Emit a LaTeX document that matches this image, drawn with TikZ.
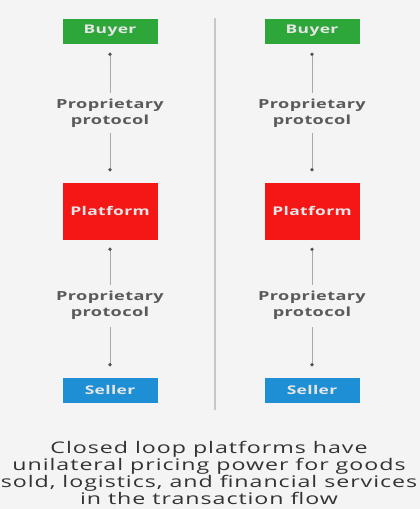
\documentclass[tikz,border=0pt]{standalone}
\usepackage{fontspec}
\setmainfont{Open Sans}[FakeStretch=1.45, LetterSpace=3]
\newfontfamily\capfont{Open Sans}[FakeStretch=1.45, LetterSpace=6]
\usetikzlibrary{arrows.meta}
\definecolor{bgcol}{HTML}{F4F4F4}
\definecolor{buyergreen}{HTML}{2EA73A}
\definecolor{platred}{HTML}{F51616}
\definecolor{sellerblue}{HTML}{1E8FD5}
\definecolor{linegray}{HTML}{A8A8A8}
\definecolor{dotgray}{HTML}{555555}
\definecolor{labelgray}{HTML}{5A5A5A}
\definecolor{captiongray}{HTML}{333333}
\tikzset{
  party/.style={minimum width=95pt, minimum height=25pt, inner sep=0pt,
    text=white!90!black, font=\fontsize{12}{13}\selectfont\bfseries},
  buyerbox/.style={party, fill=buyergreen},
  platbox/.style={party, fill=platred, minimum height=57pt},
  sellerbox/.style={party, fill=sellerblue},
  protolabel/.style={align=center, inner sep=1pt, text=labelgray,
    font=\fontsize{12.5}{16}\selectfont\bfseries},
  conn/.style={draw=linegray, line width=1pt},
  dotend/.style={-{Circle[length=3.2pt, color=dotgray, fill=dotgray]}},
  dotstart/.style={{Circle[length=3.2pt, color=dotgray, fill=dotgray]}-},
  divider/.style={draw=black!22, line width=1.6pt},
}
\begin{document}
\begin{tikzpicture}[x=1pt, y=-1pt]
\fill[bgcol] (0,0) rectangle (420,509);
\useasboundingbox (0,0) rectangle (420,509);

% separator between the two columns
\coordinate (divtop) at (215,18);
\coordinate (divbot) at (215,410);
\draw[divider] (divtop) -- (divbot);

% left column
\node[buyerbox]  (buyerL) at (110,31)  {Buyer};
\node[protolabel] (protoLT) at (110,113) {Proprietary\\protocol};
\node[platbox]   (platL)  at (110,211) {Platform};
\node[protolabel] (protoLB) at (110,305) {Proprietary\\protocol};
\node[sellerbox] (sellerL) at (110,390) {Seller};

% right column
\node[buyerbox]  (buyerR) at (312,31)  {Buyer};
\node[protolabel] (protoRT) at (312,113) {Proprietary\\protocol};
\node[platbox]   (platR)  at (312,211) {Platform};
\node[protolabel] (protoRB) at (312,305) {Proprietary\\protocol};
\node[sellerbox] (sellerR) at (312,390) {Seller};

% protocol links
\foreach \c in {L,R}{
  \draw[conn, dotstart, shorten <=9pt, shorten >=5pt] (buyer\c) -- (proto\c T.north);
  \draw[conn, dotend, shorten <=5pt, shorten >=11pt] (proto\c T.south) -- (plat\c);
  \draw[conn, dotstart, shorten <=8pt, shorten >=5pt] (plat\c) -- (proto\c B.north);
  \draw[conn, dotend, shorten <=7pt, shorten >=11pt] (proto\c B.south) -- (seller\c);
}

% caption
\node[align=center, text=captiongray, font=\capfont\fontsize{16}{16}\selectfont]
  (caption) at (209,473)
  {Closed loop platforms have\\unilateral pricing power for goods\\sold, logistics, and financial services\\in the transaction flow};
\end{tikzpicture}
\end{document}
